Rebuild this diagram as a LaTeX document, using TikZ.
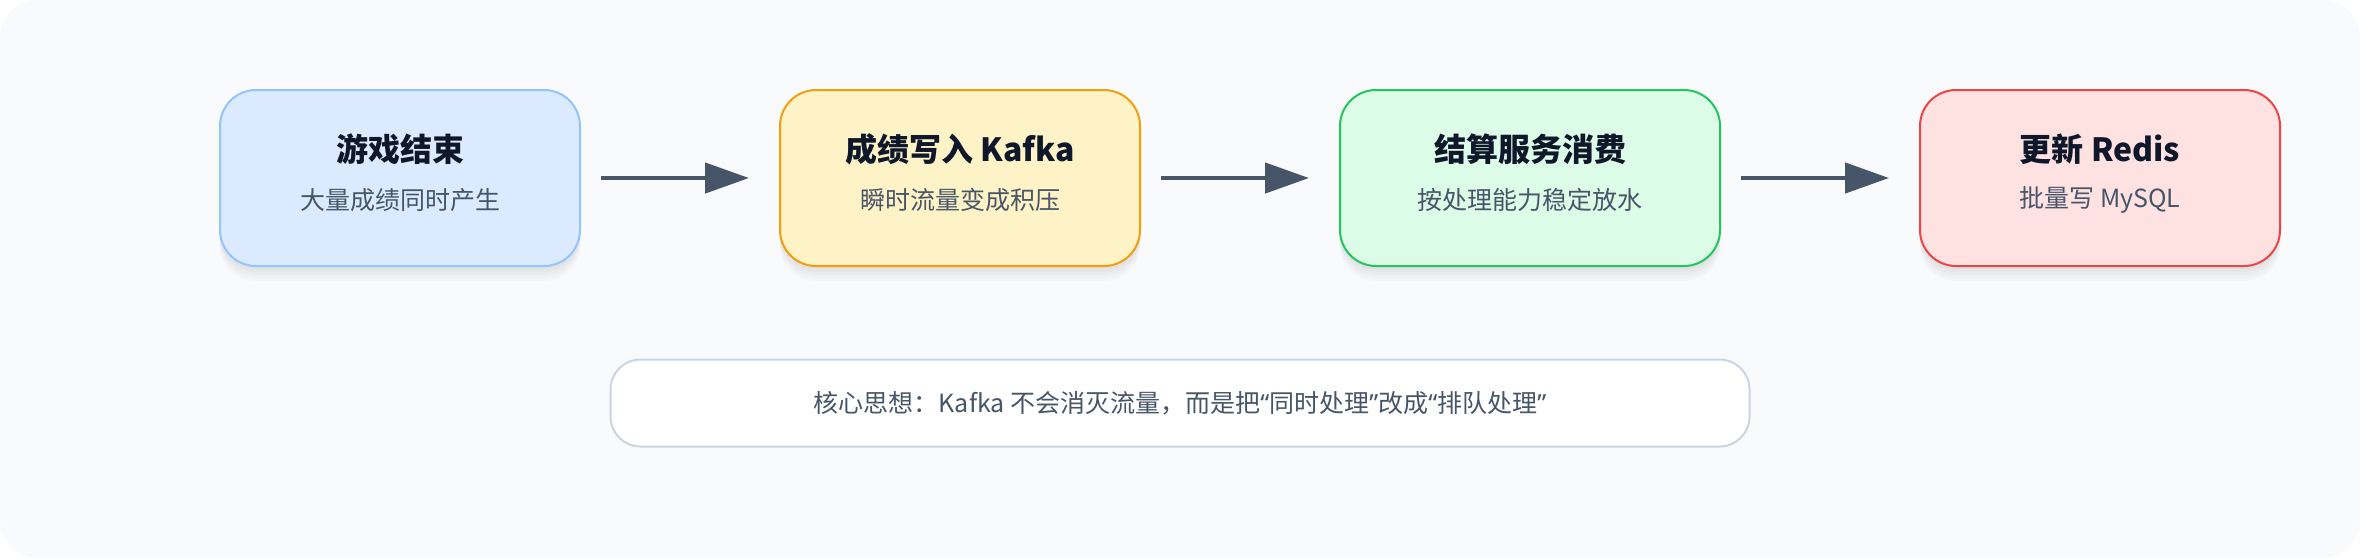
\documentclass[tikz,border=0pt]{standalone}
\usepackage{fontspec}
\setmainfont{Noto Sans CJK SC}
\newfontfamily\quotefont{Noto Sans}
\usetikzlibrary{positioning,arrows.meta}

\definecolor{bgcol}{HTML}{F8FAFC}
\definecolor{inkdark}{HTML}{0F172A}
\definecolor{inkgray}{HTML}{475569}
\definecolor{bluefill}{HTML}{DBEAFE}\definecolor{blueline}{HTML}{93C5FD}
\definecolor{amberfill}{HTML}{FEF3C7}\definecolor{amberline}{HTML}{F59E0B}
\definecolor{greenfill}{HTML}{DCFCE7}\definecolor{greenline}{HTML}{22C55E}
\definecolor{redfill}{HTML}{FEE2E2}\definecolor{redline}{HTML}{EF4444}
\definecolor{noteline}{HTML}{CBD5E1}
\newcommand{\openq}{{\quotefont “}}
\newcommand{\closeq}{{\quotefont ”}}

\tikzset{
  softshade/.style={preaction={fill=black, opacity=0.018, transform canvas={yshift=-#1}}},
  stagebox/.style={draw=#1line, fill=#1fill, line width=2pt, rounded corners=36pt,
    minimum width=360pt, minimum height=176pt, inner sep=0pt,
    softshade=3pt, softshade=6pt, softshade=9pt, softshade=12pt, softshade=15pt},
  stagetitle/.style={text=inkdark, font=\fontsize{32}{38}\selectfont\bfseries},
  stagesub/.style={text=inkgray, font=\fontsize{25}{30}\selectfont},
  flow/.style={draw=inkgray, line width=4.5pt, -{Triangle[length=44pt,width=30pt]},
    shorten <=20pt, shorten >=30pt},
}

\begin{document}
\begin{tikzpicture}[x=1pt,y=-1pt]
    \useasboundingbox (0,0) rectangle (2360,558);
    \fill[bgcol, rounded corners=38pt] (0,0) rectangle (2360,558);
    % stages
    \node[stagebox=blue] (end) at (400,178) {};
    \node[stagebox=amber, right=198pt of end] (kafka) {};
    \node[stagebox=green, right=198pt of kafka, minimum width=380pt] (settle) {};
    \node[stagebox=red, right=198pt of settle] (redis) {};
    \node[stagetitle] (end-t) at ([yshift=29pt]end.center) {游戏结束};
    \node[stagesub] (end-s) at ([yshift=-22pt]end.center) {大量成绩同时产生};
    \node[stagetitle] (kafka-t) at ([yshift=29pt]kafka.center) {成绩写入 Kafka};
    \node[stagesub] (kafka-s) at ([yshift=-22pt]kafka.center) {瞬时流量变成积压};
    \node[stagetitle] (settle-t) at ([yshift=29pt]settle.center) {结算服务消费};
    \node[stagesub] (settle-s) at ([yshift=-22pt]settle.center) {按处理能力稳定放水};
    \node[stagetitle] (redis-t) at ([yshift=29pt]redis.center) {更新 Redis};
    \node[stagesub] (redis-s) at ([yshift=-22pt]redis.center) {批量写 MySQL};
    % arrows
    \draw[flow] (end) -- (kafka);
    \draw[flow] (kafka) -- (settle);
    \draw[flow] (settle) -- (redis);
    % note
    \node[draw=noteline, fill=white, line width=2pt, rounded corners=30pt,
      minimum width=1139pt, minimum height=87pt, text=inkgray,
      font=\fontsize{25}{30}\selectfont] (idea) at (1180,403)
      {核心思想：Kafka 不会消灭流量，而是把\openq 同时处理\closeq 改成\openq 排队处理\closeq};
\end{tikzpicture}
\end{document}
